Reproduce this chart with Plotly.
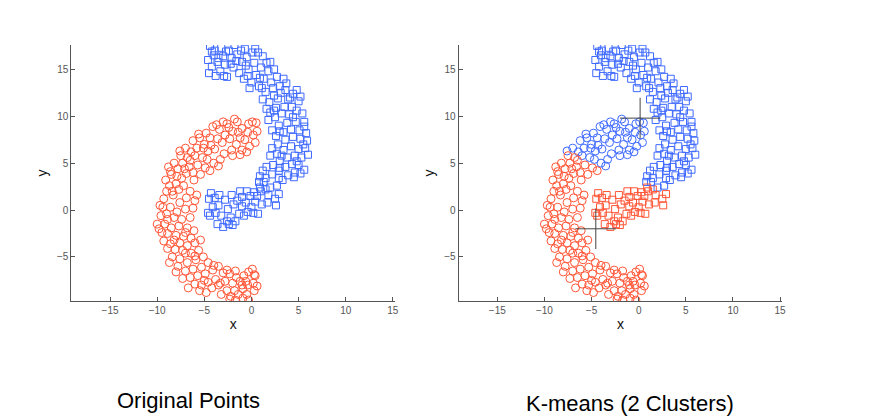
import plotly.graph_objects as go

# ---- data ----
red_pts = [
    (0.5,9.3),(0.1,9.4),(-0.3,9.2),(0.6,8.4),(0.2,8.0),(-0.4,8.3),(0.4,7.2),(-0.2,6.8),(-0.7,7.5),(-0.5,6.2),
    (-1.0,8.7),(-1.2,7.7),(-1.5,9.4),(-1.8,9.7),(-2.0,8.4),(-1.6,7.0),(-2.3,7.6),(-2.6,9.2),(-2.1,6.4),(-2.8,8.0),
    (-3.1,7.2),(-2.9,6.0),(-3.4,8.6),(-3.6,7.6),(-3.3,5.4),(-3.9,6.5),(-4.1,8.9),(-4.4,7.7),(-4.0,5.0),(-4.6,6.3),
    (-4.8,8.2),(-5.0,7.0),(-4.9,4.5),(-5.2,5.6),(-5.5,7.7),(-5.8,6.6),(-5.4,3.8),(-5.7,4.8),(-6.0,5.8),(-6.2,7.4),
    (-6.4,6.2),(-6.1,3.2),(-6.6,4.6),(-6.8,5.6),(-7.0,6.6),(-7.3,5.0),(-7.6,6.3),(-6.9,3.9),(-7.4,3.4),(-7.8,4.4),
    (-8.2,5.0),(-8.5,3.8),(-8.0,2.8),(-8.8,4.6),(-9.1,3.2),(-8.7,2.6),(-7.7,2.2),(-6.5,2.0),(-5.8,1.6),(-6.9,1.3),
    (-7.6,0.8),(-8.3,1.6),(-9.0,2.0),(-9.3,1.2),(-9.7,0.5),(-8.6,0.3),(-7.9,-0.2),(-7.0,0.1),(-6.2,0.2),(-6.5,-0.8),
    (-7.4,-1.0),(-8.2,-0.8),(-9.0,-0.4),(-9.6,-0.6),(-10.0,-1.5),(-9.2,-1.5),(-8.5,-1.9),(-7.7,-1.7),(-6.8,-1.9),(-6.1,-2.2),
    (-6.4,-3.0),(-7.2,-2.8),(-8.0,-2.7),(-8.9,-2.5),(-9.5,-2.4),(-9.3,-3.3),(-8.6,-3.6),(-7.6,-3.5),(-6.8,-3.8),(-6.0,-3.5),
    (-5.6,-4.3),(-6.4,-4.6),(-7.3,-4.3),(-8.1,-4.2),(-8.9,-4.1),(-8.4,-5.0),(-7.6,-5.2),(-6.8,-5.6),(-5.9,-5.3),(-5.1,-5.0),
    (-4.6,-5.6),(-5.3,-6.1),(-6.2,-6.3),(-7.0,-6.5),(-7.8,-6.0),(-7.3,-7.3),(-6.5,-7.2),(-5.7,-7.0),(-4.9,-6.8),(-4.1,-6.4),
    (-3.5,-6.0),(-3.0,-6.7),(-3.8,-7.4),(-4.6,-7.7),(-5.3,-8.0),(-6.0,-7.9),(-5.5,-8.6),(-4.8,-8.8),(-4.2,-8.3),(-3.5,-8.0),
    (-2.8,-7.6),(-2.3,-6.8),(-1.7,-6.5),(-2.0,-7.8),(-2.6,-8.6),(-3.2,-9.0),(-2.2,-9.2),(-1.8,-8.6),(-1.2,-7.6),(-0.8,-7.0),
    (-0.3,-6.6),(0.1,-6.3),(0.4,-7.0),(0.2,-7.8),(-0.4,-8.0),(-0.9,-8.4),(-1.4,-9.0),(-1.7,-9.6),(-0.9,-9.4),(-0.3,-9.6),
    (0.3,-8.6),(0.6,-8.1),
    (-1.0,6.4),(-1.4,8.3),(-2.4,8.8),(-3.0,9.4),(-3.7,9.1),(-4.3,6.9),(-4.7,5.4),(-5.1,6.6),(-5.6,8.1),(-6.5,5.3),
    (-7.1,4.4),(-7.9,3.6),(-8.4,2.0),(-7.2,2.6),(-6.2,4.0),(-6.0,1.0),(-8.9,-1.0),(-7.0,-2.4),(-8.2,-3.2),(-7.0,-4.6),
    (-5.4,-3.2),(-6.0,-4.9),(-5.0,-7.5),(-4.0,-5.9),(-3.3,-7.8),(-2.6,-6.4),(-1.6,-7.2),(-1.0,-8.0),(-0.5,-9.0),(-2.3,-9.5),
    (0.3,-6.9),(-0.6,-7.6),(-9.8,-2.0),(-9.4,0.3),(-8.7,-5.6),(-8.0,-6.6),(-6.7,-8.3),(-7.5,5.8),(-8.6,4.1),(-2.0,5.8),
    (-1.2,5.9),(-3.5,4.7),(-4.4,4.2),
]

blue_pts = [
    (-4.4,17.5),(-3.9,17.0),(-4.6,16.0),(-4.2,15.3),(-4.5,14.6),(-3.8,14.3),(-3.6,15.8),(-3.2,17.3),(-3.0,16.4),(-3.3,14.8),
    (-2.8,15.5),(-2.6,14.2),(-2.4,17.0),(-2.1,16.2),(-1.8,17.6),(-1.9,15.2),(-1.5,16.6),(-1.3,14.6),(-1.0,15.8),(-0.7,17.2),
    (-0.5,16.3),(-0.8,14.0),(-0.3,15.0),(0.1,16.8),(0.3,15.7),(0.0,13.6),(-0.2,13.0),(0.5,14.4),(0.7,16.8),(1.0,15.2),
    (1.3,14.0),(0.8,13.2),(1.6,15.7),(1.8,14.8),(2.1,13.6),(1.5,12.6),(2.4,15.0),(2.7,14.2),(3.0,13.2),(2.4,12.2),
    (3.4,14.0),(3.6,12.8),(1.2,11.8),(1.9,11.5),(2.8,11.9),(3.9,11.8),(4.4,12.4),(4.8,12.8),(5.0,11.6),(4.3,11.0),
    (3.5,11.0),(2.6,10.9),(2.0,10.4),(1.8,9.6),(2.5,9.9),(3.2,10.3),(4.0,10.2),(4.8,10.6),(5.4,10.3),(5.6,9.4),
    (4.7,9.4),(3.8,9.3),(2.9,9.0),(2.2,8.5),(2.6,7.9),(3.4,8.3),(4.2,8.6),(5.1,8.5),(5.8,8.2),(5.9,7.4),
    (5.2,7.6),(4.4,7.8),(3.6,7.5),(2.8,7.0),(2.2,6.6),(2.0,5.8),(2.7,6.0),(3.4,6.4),(4.2,6.8),(5.0,6.5),
    (5.7,6.6),(6.0,5.9),(5.3,5.6),(4.6,5.8),(3.8,5.6),(3.0,5.2),(2.3,4.8),(1.6,4.6),(1.2,4.2),(0.9,3.6),
    (0.8,3.0),(1.5,3.4),(2.2,3.8),(2.9,4.2),(3.6,4.6),(4.3,4.9),(5.0,4.8),(5.6,4.3),(5.2,3.9),(4.6,4.0),
    (3.9,3.7),(3.3,3.2),(2.7,2.6),(2.9,3.4),(2.0,2.4),(1.5,2.2),(1.0,2.0),(0.6,1.5),(1.8,1.6),(2.5,1.2),
    (2.9,1.7),(2.6,0.5),(1.7,0.8),(1.1,0.6),(0.4,0.9),(-0.1,1.5),(-0.5,2.0),(-1.0,1.4),(-0.6,0.8),(0.0,0.3),
    (0.7,-0.4),(0.2,-0.3),(-0.4,-0.2),(-1.0,0.4),(-1.5,1.0),(-1.9,0.6),(-1.3,-0.4),(-1.7,-1.2),(-2.2,-0.8),(-2.0,-1.6),
    (-2.5,0.1),(-2.8,1.1),(-2.4,-1.5),(-3.0,-1.8),(-3.2,-0.6),(-3.5,0.5),(-3.9,1.3),(-4.3,1.8),(-4.5,1.2),(-4.1,0.3),
    (-3.8,-0.3),(-4.4,-0.6),(-4.6,-0.3),(-3.4,1.6),(-2.1,1.6),(-1.2,2.0),
    (-4.0,16.5),(-3.5,16.2),(-2.7,16.9),(-2.2,15.6),(-1.6,15.9),(-1.1,17.0),(-0.6,15.4),(0.4,17.2),(1.2,16.4),(0.9,14.1),
    (2.0,15.8),(2.3,13.0),(3.1,12.5),(3.7,13.5),(4.1,12.0),(5.2,12.1),(1.6,10.8),(4.4,9.9),(3.0,8.4),(5.5,7.0),
    (3.2,5.8),(4.8,5.2),(1.3,3.0),(0.9,2.4),(-2.6,-1.2),(-0.8,-0.6),(0.3,1.9),(-3.6,-1.5),(4.5,3.5),(3.0,4.5),
    (5.6,8.9),(2.4,10.6),(-0.4,14.3),(1.1,13.0),(-2.9,14.3),(-4.2,16.9),
]

red_x = [p[0] for p in red_pts]
red_y = [p[1] for p in red_pts]
blue_x = [p[0] for p in blue_pts]
blue_y = [p[1] for p in blue_pts]

centroid_x = [0.15, -4.55]   # cluster 0 (blue), cluster 1 (red)
centroid_y = [9.8, -2.0]

x_ticks = [-15, -10, -5, 0, 5, 10, 15]
y_ticks = [-5, 0, 5, 10, 15]
titles = ["Original Points", "K-means (2 Clusters)"]

RED = "#FF3814"
BLUE = "#1E50FF"
FONT = "Liberation Sans, Arial"


def cluster(x, y):
    d0 = (x - centroid_x[0]) ** 2 + (y - centroid_y[0]) ** 2
    d1 = (x - centroid_x[1]) ** 2 + (y - centroid_y[1]) ** 2
    return 0 if d0 <= d1 else 1


fig = go.Figure()

# left: original classes
fig.add_trace(go.Scatter(x=red_x, y=red_y, mode="markers", xaxis="x", yaxis="y",
                         marker=dict(symbol="circle-open", size=8, color=RED, line=dict(width=1)),
                         opacity=0.85, showlegend=False))
fig.add_trace(go.Scatter(x=blue_x, y=blue_y, mode="markers", xaxis="x", yaxis="y",
                         marker=dict(symbol="square-open", size=7, color=BLUE, line=dict(width=1)),
                         opacity=0.85, showlegend=False))

# right: kmeans clusters (shape = original class, colour = cluster)
for xs, ys, sym, sz in [(red_x, red_y, "circle-open", 8), (blue_x, blue_y, "square-open", 7)]:
    cols = [BLUE if cluster(a, b) == 0 else RED for a, b in zip(xs, ys)]
    fig.add_trace(go.Scatter(x=xs, y=ys, mode="markers", xaxis="x2", yaxis="y2",
                             marker=dict(symbol=sym, size=sz, color=cols, line=dict(width=1)),
                             opacity=0.85, showlegend=False))

fig.add_trace(go.Scatter(x=centroid_x, y=centroid_y, mode="markers", xaxis="x2", yaxis="y2",
                         marker=dict(symbol="cross-thin-open", size=29, color="#444444",
                                     line=dict(width=1, color="#444444")),
                         showlegend=False))

ax_common = dict(showline=True, linecolor="#555555", linewidth=1, ticks="inside", ticklen=4,
                 tickcolor="#555555", tickfont=dict(family=FONT, size=10, color="#555555"),
                 showgrid=False, zeroline=False)
xa = dict(ax_common, range=[-19.1, 15.25], tickvals=x_ticks,
          title=dict(text="x", font=dict(family=FONT, size=14, color="#111"), standoff=4))
ya = dict(ax_common, range=[-9.7, 17.6], tickvals=y_ticks,
          title=dict(text="y", font=dict(family=FONT, size=14, color="#111"), standoff=6))

fig.update_layout(
    width=890, height=417,
    margin=dict(l=0, r=0, t=0, b=0),
    paper_bgcolor="white", plot_bgcolor="white",
    xaxis=dict(xa, domain=[71.7 / 890, 397 / 890], anchor="y"),
    yaxis=dict(ya, domain=[1 - 301 / 417, 1 - 45 / 417], anchor="x"),
    xaxis2=dict(xa, domain=[460.7 / 890, 786 / 890], anchor="y2"),
    yaxis2=dict(ya, domain=[1 - 301 / 417, 1 - 45 / 417], anchor="x2"),
    annotations=[
        dict(text=titles[0], x=189 / 890, y=1 - 400 / 417, xref="paper", yref="paper",
             xanchor="center", yanchor="middle",
             showarrow=False, font=dict(family=FONT, size=22, color="black")),
        dict(text=titles[1], x=633 / 890, y=1 - 403 / 417, xref="paper", yref="paper",
             xanchor="center", yanchor="middle",
             showarrow=False, font=dict(family=FONT, size=22, color="black")),
    ],
)

fig.write_html("out.html")
